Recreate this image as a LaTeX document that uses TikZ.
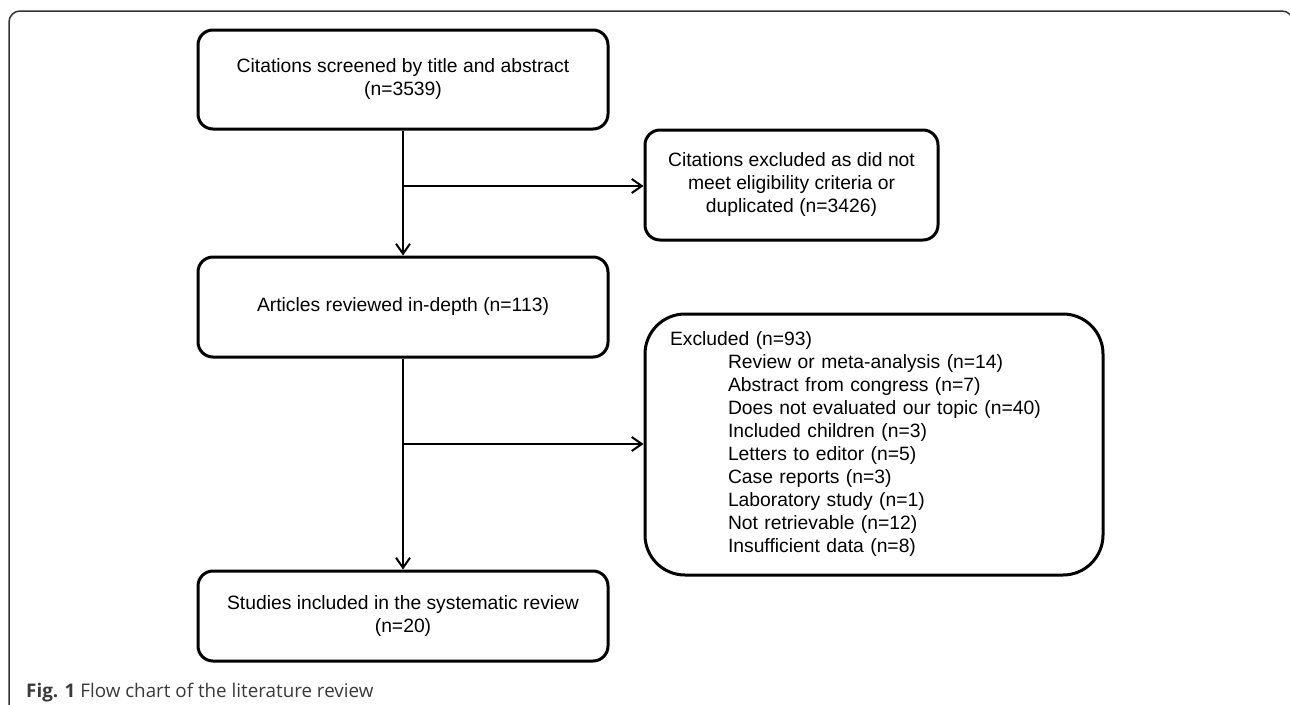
\documentclass[tikz,border=0pt]{standalone}
\usepackage{fontspec}
\setmainfont{Liberation Sans}
\newfontfamily\capfont{Open Sans}
\usetikzlibrary{arrows.meta}
\definecolor{framegray}{HTML}{333333}
\definecolor{capgray}{HTML}{3A3A3A}
\tikzset{
  flowbox/.style={draw=black, line width=3pt, rounded corners=15pt, align=center,
    font=\fontsize{19.3}{23}\selectfont, inner sep=0pt},
  flowarrow/.style={line width=2pt, -{Straight Barb[length=10pt,width=14pt,line width=2pt]}},
  frameline/.style={draw=framegray, line width=1.5pt, rounded corners=11pt}
}
\begin{document}
\begin{tikzpicture}[x=1pt,y=-1pt]
\useasboundingbox (0,0) rectangle (1290,704);
\fill[white] (0,0) rectangle (1290,704);
\draw[frameline] (9,710) -- (9,11) -- (1293,11) -- (1293,710);

\node[flowbox, minimum width=410pt, minimum height=99pt] (screen) at (403,79.5)
  {Citations screened by title and abstract\\(n=3539)};
\node[flowbox, minimum width=293pt, minimum height=110pt] (excl1) at (791.5,185)
  {Citations excluded as did not\\meet eligibility criteria or\\duplicated (n=3426)};
\node[flowbox, minimum width=410pt, minimum height=100pt] (review) at (403,307)
  {Articles reviewed in-depth (n=113)};
\node[flowbox, rounded corners=40pt, minimum width=458pt, minimum height=261pt,
  text width=408pt, align=left] (excl2) at (874,444.5)
  {Excluded (n=93)\\
   \hspace*{58pt}Review or meta-analysis (n=14)\\
   \hspace*{58pt}Abstract from congress (n=7)\\
   \hspace*{58pt}Does not evaluated our topic (n=40)\\
   \hspace*{58pt}Included children (n=3)\\
   \hspace*{58pt}Letters to editor (n=5)\\
   \hspace*{58pt}Case reports (n=3)\\
   \hspace*{58pt}Laboratory study (n=1)\\
   \hspace*{58pt}Not retrievable (n=12)\\
   \hspace*{58pt}Insufficient data (n=8)};
\node[flowbox, minimum width=410pt, minimum height=90pt] (included) at (403,616)
  {Studies included in the systematic review\\(n=20)};

\coordinate (j1) at (403,186);
\coordinate (j2) at (403,444);
\draw[flowarrow] (screen.south) -- (review.north);
\draw[flowarrow] (review.south) -- (included.north);
\draw[flowarrow] (j1) -- (j1 -| excl1.west);
\draw[flowarrow] (j2) -- (j2 -| excl2.west);

\node[anchor=base west, inner sep=0pt, text=capgray, font=\capfont\fontsize{18.8}{22}\selectfont] (caption) at (26,697)
  {\textbf{Fig. 1} Flow chart of the literature review};
\end{tikzpicture}
\end{document}
